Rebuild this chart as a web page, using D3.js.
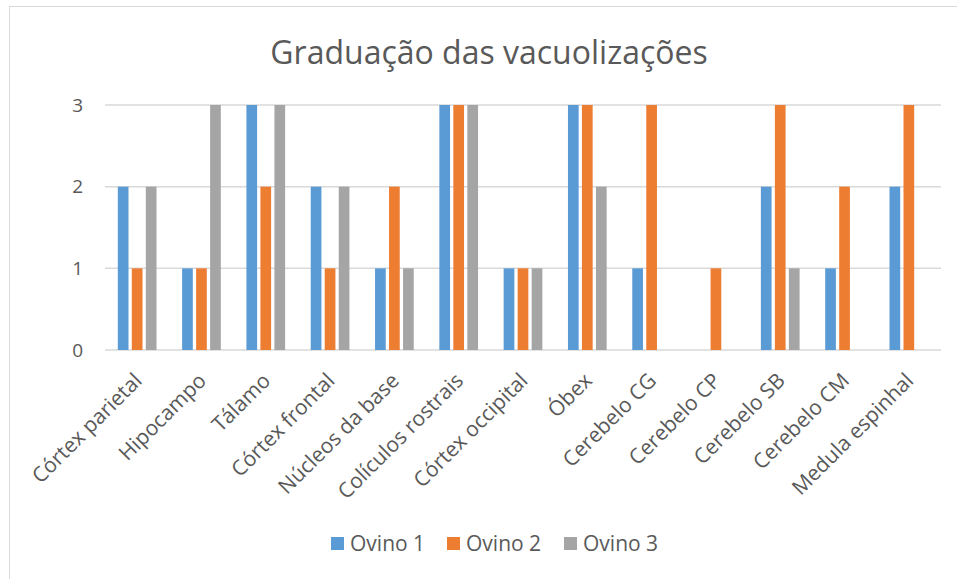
<!DOCTYPE html>
<html><head><meta charset="utf-8">
<script src="https://cdn.jsdelivr.net/npm/d3@7"></script>
<style>body{margin:0;background:#fff}svg{display:block}text{font-family:"Open Sans",sans-serif;fill:#595959}</style>
</head><body><svg id="c" width="957" height="579"></svg>
<script>
const title = "Graduação das vacuolizações";
const categories = ["Córtex parietal","Hipocampo","Tálamo","Córtex frontal","Núcleos da base","Colículos rostrais","Córtex occipital","Óbex","Cerebelo CG","Cerebelo CP","Cerebelo SB","Cerebelo CM","Medula espinhal"];
const seriesNames = ["Ovino 1","Ovino 2","Ovino 3"];
const ovino1 = [2,1,3,2,1,3,1,3,1,0,2,1,2];
const ovino2 = [1,1,2,1,2,3,1,3,3,1,3,2,3];
const ovino3 = [2,3,3,2,1,3,1,2,0,0,1,0,0];
const yTicks = [0,1,2,3];
const colors = ["#5B9BD5","#ED7D31","#A5A5A5"];
const seriesValues = [ovino1, ovino2, ovino3];

const svg = d3.select("#c");
svg.append("rect").attr("x",9.5).attr("y",6.5).attr("width",960).attr("height",600)
  .attr("fill","#fff").attr("stroke","#D9D9D9").attr("stroke-width",1);

const L=105, R=941, T=105, B=350;
const x0 = d3.scaleBand().domain(categories).range([L,R]).paddingInner(0).paddingOuter(0);
const groupW = 38.7;
const x1 = d3.scaleBand().domain(seriesNames).range([0,groupW]).paddingInner(0.236);
const y = d3.scaleLinear().domain([0,3]).range([B,T]);

svg.append("text").attr("x",489).attr("y",64).attr("text-anchor","middle")
  .style("font-size","32px").text(title);

const grid = svg.append("g");
grid.selectAll("line").data(yTicks).join("line")
  .attr("x1",L).attr("x2",R).attr("y1",d=>y(d)).attr("y2",d=>y(d))
  .attr("stroke","#D9D9D9").attr("stroke-width",1.5);

const yAxis = d3.axisLeft(y).tickValues(yTicks).tickFormat(d3.format("d")).tickSize(0).tickPadding(22);
const ya = svg.append("g").attr("transform",`translate(${L},0)`).call(yAxis);
ya.select(".domain").remove();
ya.selectAll("text").style("font-size","19px").attr("fill","#595959").style("font-family","'Open Sans',sans-serif");

const groups = svg.append("g").selectAll("g").data(categories).join("g")
  .attr("transform",d=>`translate(${x0(d)+(x0.bandwidth()-groupW)/2},0)`);
groups.selectAll("rect").data((d,i)=>seriesNames.map((s,j)=>({s,v:seriesValues[j][i],j})))
  .join("rect")
  .attr("x",d=>x1(d.s)).attr("width",x1.bandwidth())
  .attr("y",d=>y(d.v)).attr("height",d=>B-y(d.v))
  .attr("fill",d=>colors[d.j]);

const xAxis = d3.axisBottom(x0).tickSize(0).tickPadding(0);
const xa = svg.append("g").attr("transform",`translate(0,${B})`).call(xAxis);
xa.select(".domain").remove();
xa.selectAll("text")
  .style("font-size","21px").style("font-family","'Open Sans',sans-serif").attr("fill","#595959")
  .attr("text-anchor","end").attr("dy",null).attr("y",0)
  .attr("transform","translate(6,32) rotate(-45)");

const leg = svg.append("g");
const legX = [331,447,564];
seriesNames.forEach((s,j)=>{
  leg.append("rect").attr("x",legX[j]).attr("y",537).attr("width",13).attr("height",13).attr("fill",colors[j]);
  leg.append("text").attr("x",legX[j]+19).attr("y",551).style("font-size","21px").text(s);
});
</script></body></html>
